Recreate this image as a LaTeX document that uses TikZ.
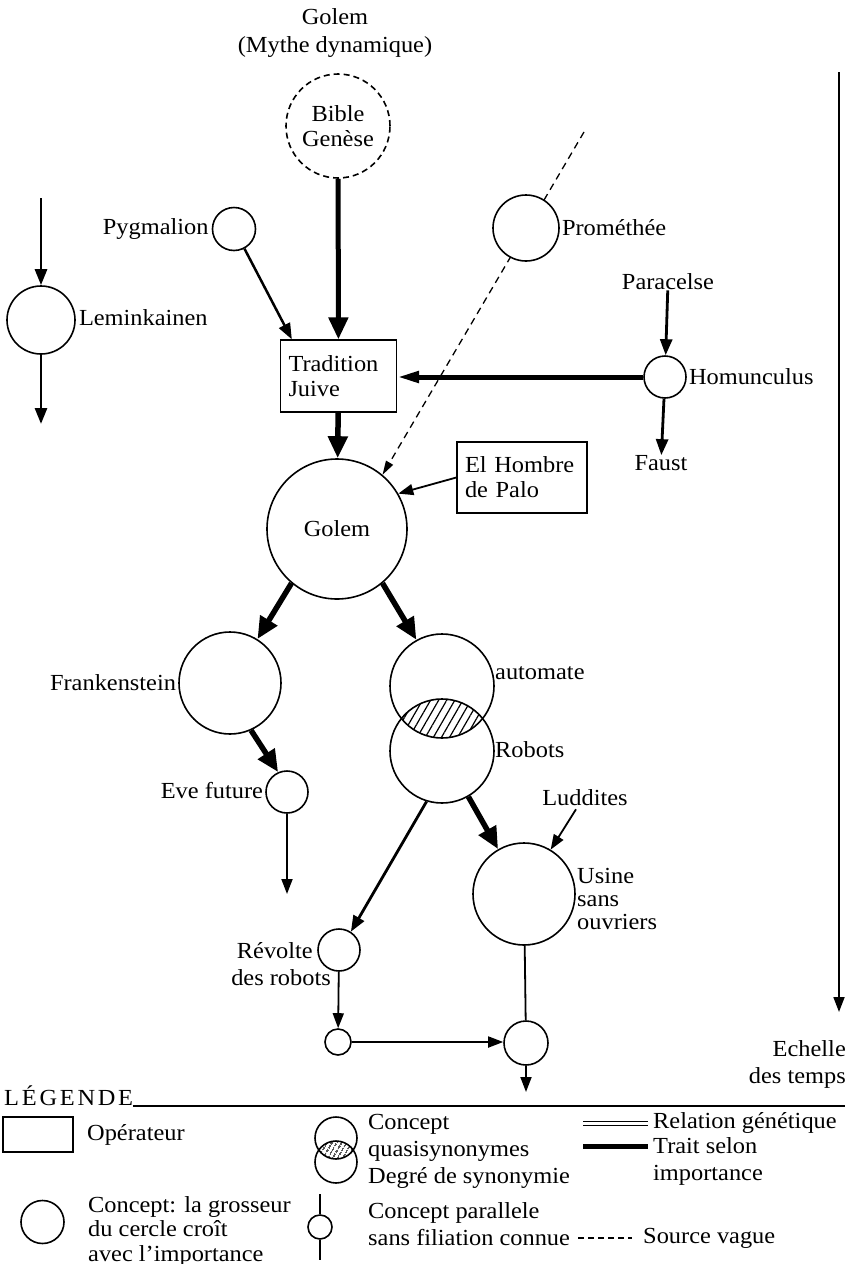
\documentclass[tikz,border=0pt]{standalone}
\usepackage{fontspec}
\setmainfont{Liberation Serif}[FakeStretch=1.06]
\usetikzlibrary{arrows.meta,patterns.meta}
\begin{document}
\begin{tikzpicture}[x=1pt,y=-1pt,
  every node/.style={font=\fontsize{23}{25}\selectfont},
  lab/.style={inner sep=0pt},
  conc/.style={circle,draw,line width=1.6pt,fill=white,inner sep=0pt},
  opbox/.style={draw,line width=1.3pt,fill=white,inner ysep=0pt,align=left},
  thinarr/.style={line width=1.8pt,-{Triangle[length=15pt,width=11pt]}},
  medarr/.style={line width=2.8pt,-{Triangle[length=16pt,width=12pt]}},
  thickarr/.style={line width=5.5pt,-{Triangle[length=22pt,width=19pt]}},
  longarr/.style={line width=5pt,-{Triangle[length=22pt,width=11pt]}},
  vaguearr/.style={line width=1.3pt,dash pattern=on 7pt off 5pt,-{Triangle[length=14pt,width=8pt]}},
  hatchA/.style={pattern={Lines[angle=60,distance=7pt,line width=1.2pt]}},
  hatchB/.style={pattern={Lines[angle=60,distance=4pt,line width=1.3pt]}},
]
\useasboundingbox (0,0) rectangle (848,1264);

% title
\node[lab] (t1) at (335,17) {Golem};
\node[lab] (t2) at (335,47) {(Mythe dynamique)};

% top nodes
\node[conc,dash pattern=on 6pt off 4pt,minimum size=104pt,align=center] (bible) at (338,126) {Bible\\Genèse};
\node[conc,minimum size=43pt] (pyg) at (234,229) {};
\node[lab,anchor=east] (pygl) at ([xshift=-3pt]pyg.west) {Pygmalion};

\node[conc,minimum size=68pt] (lem) at (41,320) {};
\node[lab,anchor=west] (leml) at ([xshift=3pt,yshift=2pt]lem.east) {Leminkainen};
\coordinate (lemtop) at (41,198);
\coordinate (lembot) at (41,424);

\node[lab] (para) at (668,282) {Paracelse};
\node[conc,minimum size=42pt] (homu) at (665,377) {};
\node[lab,anchor=west] (homul) at ([xshift=2pt]homu.east) {Homunculus};
\node[lab] (faust) at (661,463) {Faust};

\node[opbox,text width=100pt,inner xsep=8pt,minimum height=72pt] (trad) at (338.5,376) {Tradition\\Juive};
\node[opbox,text width=114pt,inner xsep=8pt,minimum height=71pt] (hombre) at (522,477.5) {El Hombre\\de Palo};

\node[conc,minimum size=140pt] (golem) at (337,529) {Golem};

% vague source line (under Promethee)
\coordinate (dashtop) at (584,132);
\draw[vaguearr] (dashtop) -- (golem.50);
\node[conc,minimum size=66pt] (prom) at (526,228) {};
\node[lab,anchor=west] (proml) at ([xshift=2pt]prom.east) {Prométhée};

% middle
\node[conc,minimum size=102pt] (frank) at (230,683) {};
\node[lab,anchor=east] (frankl) at ([xshift=-2pt]frank.west) {Frankenstein};
\node[conc,minimum size=42pt] (eve) at (287,792) {};
\node[lab,anchor=east] (evel) at ([xshift=-2pt,yshift=1pt]eve.west) {Eve future};
\coordinate (evebot) at (287,894);

\node[conc,fill=none,minimum size=104pt] (auto) at (442,686) {};
\node[conc,fill=none,minimum size=104pt] (robo) at (442,751) {};
\begin{scope}
  \clip (auto.center) circle[radius=52pt];
  \fill[hatchA] (robo.center) circle[radius=52pt];
\end{scope}
\node[lab,anchor=west] (autol) at (495,673) {automate};
\node[lab,anchor=west] (robol) at (495,750) {Robots};

\node[conc,minimum size=102pt] (usine) at (524,894) {};
\node[lab,anchor=west,align=left,font=\fontsize{23}{23}\selectfont] (usinel) at (577,899) {Usine\\sans\\ouvriers};
\node[lab] (lud) at (585,798) {Luddites};

\node[conc,minimum size=42pt] (revo) at (339,950) {};
\node[lab,anchor=east] (revl1) at (313,951) {Révolte};
\node[lab,anchor=east] (revl2) at (331,978) {des robots};
\node[conc,minimum size=26pt] (sm) at (338,1042) {};
\node[conc,minimum size=44pt] (bot) at (526,1043) {};
\coordinate (botend) at (526,1092);

% time scale
\coordinate (ts1) at (839,72);
\coordinate (ts2) at (839,1012);
\draw[thinarr] (ts1) -- (ts2);
\node[lab,anchor=east] (ech1) at (846,1049) {Echelle};
\node[lab,anchor=east] (ech2) at (846,1078) {des temps};

% connectors
\draw[thickarr,line width=5pt] (bible) -- (trad);
\draw[medarr,line width=2.5pt] (pyg.-62) -- ([xshift=12pt]trad.north west);
\draw[medarr] (lemtop) -- (lem);
\draw[medarr] (lem) -- (lembot);
\draw[medarr] (para) -- (homu);
\draw[longarr] (homu.west) -- (homu.west -| trad.east);
\draw[medarr] (homu) -- (faust);
\draw[thickarr] (trad) -- (golem);
\draw[thinarr] (hombre.west) -- (golem.30);
\draw[thickarr] (golem.-130) -- (frank.58);
\draw[thickarr] (golem.-50) -- (auto.119);
\draw[thickarr] (frank.-66) -- (eve.114);
\draw[thinarr] (eve) -- (evebot);
\draw[medarr] (robo.-107) -- (revo.57);
\draw[thickarr] (robo.-60) -- (usine.120);
\draw[thinarr] ([xshift=-9pt,yshift=-3pt]lud.south) -- (usine.59);
\draw[line width=1.8pt] (usine) -- (bot);
\draw[thinarr] (revo) -- (sm);
\draw[thinarr] (sm.east) -- (sm.east -| bot.west);
\draw[thinarr] (bot) -- (botend);

% legend
\node[lab,anchor=south west,font=\fontsize{23}{25}\selectfont\addfontfeatures{LetterSpace=12}] (leg) at (4,1106) {LÉGENDE};
\coordinate (legr) at (845,1106);
\draw[line width=1.2pt] (leg.south east) -- (leg.south east -| legr);

\node[opbox,minimum width=70pt,minimum height=35pt] (lop) at (38,1134.5) {};
\node[lab,anchor=west] (lopl) at (87,1135) {Opérateur};

\node[conc,fill=none,minimum size=42pt] (lq1) at (336,1138) {};
\node[conc,fill=none,minimum size=42pt] (lq2) at (336,1162) {};
\begin{scope}
  \clip (lq1.center) circle[radius=21pt];
  \fill[hatchB] (lq2.center) circle[radius=21pt];
\end{scope}
\node[lab,anchor=west,align=left] (lql) at (368,1151) {Concept\\[2pt]quasisynonymes\\[2pt]Degré de synonymie};

\coordinate (r1a) at (583,1121); \coordinate (r1b) at (648,1121);
\coordinate (r2a) at (583,1125); \coordinate (r2b) at (648,1125);
\coordinate (r3a) at (583,1146); \coordinate (r3b) at (648,1146);
\draw[line width=1pt] (r1a) -- (r1b);
\draw[line width=1pt] (r2a) -- (r2b);
\draw[line width=5pt] (r3a) -- (r3b);
\node[lab,anchor=west] (rel) at (653,1123) {Relation génétique};
\node[lab,anchor=west,align=left] (trl) at (653,1161) {Trait selon\\[2pt]importance};

\node[conc,minimum size=43pt] (lc) at (42.5,1222) {};
\node[lab,anchor=west,align=left,font=\fontsize{23}{24.5}\selectfont] (lcl) at (88,1231) {Concept: la grosseur\\du cercle croît\\avec l’importance};

\coordinate (lpt) at (320,1194);
\coordinate (lpb) at (320,1260);
\node[conc,minimum size=24pt] (lp) at (320,1227) {};
\draw[line width=1.5pt] (lpt) -- (lp);
\draw[line width=1.5pt] (lp) -- (lpb);
\node[lab,anchor=west,align=left] (lpl) at (368,1224) {Concept parallele\\[2pt]sans filiation connue};

\coordinate (ld1) at (578,1238); \coordinate (ld2) at (632,1238);
\draw[line width=1.2pt,dash pattern=on 6pt off 4pt] (ld1) -- (ld2);
\node[lab,anchor=west] (ldl) at (643,1238) {Source vague};
\end{tikzpicture}
\end{document}
